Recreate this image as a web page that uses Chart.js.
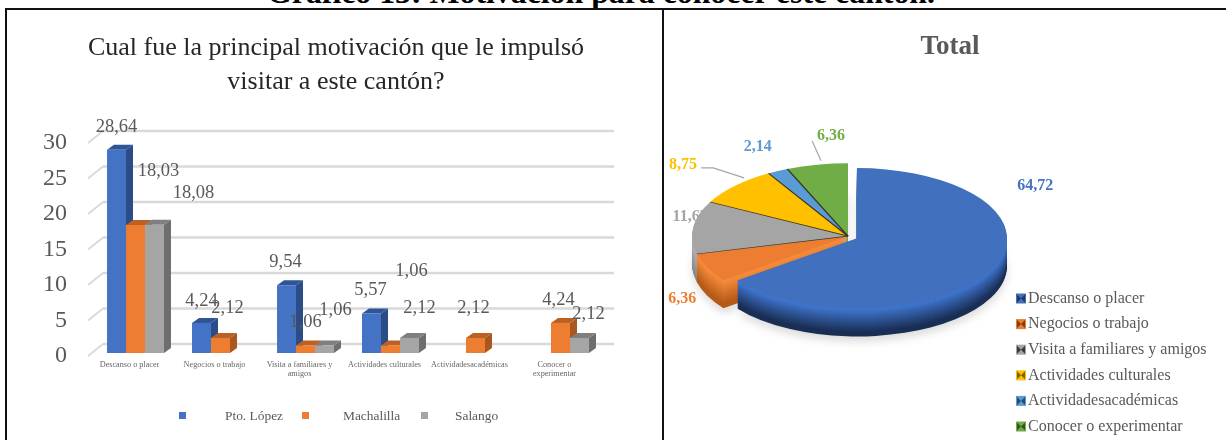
<!DOCTYPE html>
<html>
<head>
<meta charset="utf-8">
<title>Motivación</title>
<script src="https://cdn.jsdelivr.net/npm/chart.js@4"></script>
<style>
    html, body { margin: 0; width: 1226px; height: 440px; overflow: hidden; background: #fff; }
    #heading {
        position: absolute; left: 0; top: -21px; width: 1202px; text-align: center;
        font: bold 31.8px "Liberation Serif"; color: #000; line-height: 28px; white-space: nowrap;
    }
    .rule { position: absolute; background: #111; }
    canvas { position: absolute; }
</style>
</head>
<body>
<div id="heading">Gráfico 13: Motivación para conocer este cantón.</div>
<div class="rule" style="left:5px;top:8px;width:1221px;height:2px"></div>
<div class="rule" style="left:5px;top:8px;width:2px;height:432px"></div>
<div class="rule" style="left:662px;top:8px;width:2px;height:432px"></div>
<canvas id="barChart" width="672" height="440" style="left:0;top:0"></canvas>
<canvas id="pieChart" width="572" height="430" style="left:664px;top:10px"></canvas>

<script>
const categories = ["Descanso o placer", "Negocios o trabajo", ["Visita a familiares y", "amigos"],
    "Actividades culturales", "Actividadesacadémicas", ["Conocer o", "experimentar"]];
const ptoLopez = [28.64, 4.24, 9.54, 5.57, null, null];
const machalilla = [18.03, 2.12, 1.06, 1.06, 2.12, 4.24];
const salango = [18.08, null, 1.06, 2.12, null, 2.12];
const yTicks = [0, 5, 10, 15, 20, 25, 30];

const pieLabels = ["Descanso o placer", "Negocios o trabajo", "Visita a familiares y amigos",
    "Actividades culturales", "Actividadesacadémicas", "Conocer o experimentar"];
const pieValues = [64.72, 6.36, 11.67, 8.75, 2.14, 6.36];

const grey = "#595959";
const serif = "'Liberation Serif'";
const comma = v => v.toFixed(2).replace(".", ",");

// --- left chart -----------------------------------------------------------
const barFronts = ["#4472C4", "#ED7D31", "#A5A5A5"];
const barSides = ["#2C4C88", "#A9561F", "#6E6E6E"];
const barTops = ["#2F5597", "#BC6024", "#7F7F7F"];
// where the data labels sit relative to the top of their bar
const barLabelShift = [
    [[0, -23], [0, -22], [-1, -23], [-1, -23], null, null],
    [[23, -54], [7, -30], [0, -23], [21, -74], [-2, -30], [-2, -23]],
    [[39, -31], null, [11, -35], [10, -30], null, [9, -24]]
];
const legendSpots = [[179, 225], [302, 343], [421, 455]];

const bar3d = {
    id: "bar3d",
    afterLayout(chart) {
        // title is centred on the whole panel, not on the plot
        chart.titleBlock.left += 69;
    },
    beforeDatasetsDraw(chart) {
        const { ctx, chartArea, scales } = chart;
        const dx = 7, dy = 5;
        ctx.save();
        ctx.strokeStyle = "#d9d9d9";
        yTicks.forEach(t => {
            const y = scales.y.getPixelForValue(t);
            ctx.lineWidth = 2.5;
            ctx.beginPath();
            ctx.moveTo(chartArea.left + 10, y - 9);
            ctx.lineTo(chartArea.right + 11, y - 9);
            ctx.stroke();
            ctx.lineWidth = 1.8;
            ctx.beginPath();
            ctx.moveTo(chartArea.left - 5, y + 3);
            ctx.lineTo(chartArea.left + 10, y - 9);
            ctx.stroke();
        });
        chart.data.datasets.forEach((ds, i) => {
            chart.getDatasetMeta(i).data.forEach((b, j) => {
                if (ds.data[j] == null) return;
                const l = b.x - b.width / 2, r = b.x + b.width / 2;
                ctx.fillStyle = barSides[i];
                ctx.beginPath();
                ctx.moveTo(r, b.y);
                ctx.lineTo(r + dx, b.y - dy);
                ctx.lineTo(r + dx, b.base - dy);
                ctx.lineTo(r, b.base);
                ctx.fill();
                ctx.fillStyle = barTops[i];
                ctx.beginPath();
                ctx.moveTo(l, b.y);
                ctx.lineTo(l + dx, b.y - dy);
                ctx.lineTo(r + dx, b.y - dy);
                ctx.lineTo(r, b.y);
                ctx.fill();
            });
        });
        ctx.restore();
    },
    afterDraw(chart) {
        const { ctx } = chart;
        ctx.save();
        ctx.fillStyle = grey;
        ctx.textAlign = "center";
        ctx.textBaseline = "middle";
        ctx.font = "18.5px " + serif;
        chart.data.datasets.forEach((ds, i) => {
            chart.getDatasetMeta(i).data.forEach((b, j) => {
                if (ds.data[j] == null) return;
                const s = barLabelShift[i][j];
                ctx.fillText(comma(ds.data[j]), b.x + s[0], b.y + s[1]);
            });
        });
        ctx.textAlign = "left";
        ctx.font = "13.4px " + serif;
        chart.data.datasets.forEach((ds, i) => {
            ctx.fillStyle = barFronts[i];
            ctx.fillRect(legendSpots[i][0], 412, 7, 7);
            ctx.fillStyle = grey;
            ctx.fillText(ds.label, legendSpots[i][1], 416);
        });
        ctx.restore();
    }
};

new Chart("barChart", {
    type: "bar",
    data: {
        labels: categories,
        datasets: [
            { label: "Pto. López", data: ptoLopez, backgroundColor: barFronts[0] },
            { label: "Machalilla", data: machalilla, backgroundColor: barFronts[1] },
            { label: "Salango", data: salango, backgroundColor: barFronts[2] }
        ]
    },
    plugins: [bar3d],
    options: {
        responsive: false,
        animation: false,
        categoryPercentage: 0.67,
        barPercentage: 1,
        layout: { padding: { left: 0, top: 0, right: 69, bottom: 27 } },
        plugins: {
            legend: { display: false },
            tooltip: { enabled: false },
            title: {
                display: true,
                text: ["Cual fue la principal motivación que le impulsó", "visitar a este cantón?"],
                color: "#262626",
                font: { family: serif, size: 26, weight: "normal", lineHeight: 1.3 },
                padding: { top: 31, bottom: 41.4 }
            }
        },
        scales: {
            x: {
                grid: { display: false, drawTicks: false },
                border: { display: false },
                afterFit(s) { s.height = 60; },
                ticks: {
                    color: "#666666", maxRotation: 0, autoSkip: false, padding: 7, labelOffset: -6,
                    font: { family: serif, size: 8.2, lineHeight: 1.1 }
                }
            },
            y: {
                min: 0, max: 30,
                grid: { display: false, drawTicks: false },
                border: { display: false },
                afterFit(s) { s.width = 93; },
                ticks: {
                    stepSize: 5, color: grey, padding: 26, labelOffset: 3,
                    font: { family: serif, size: 24 }
                }
            }
        }
    }
});

// --- right chart ----------------------------------------------------------
const pieColors = ["#4070BE", "#ED7D31", "#A5A5A5", "#FFC000", "#5B9BD5", "#70AD47"];
const pieWallTop = ["#3F74CC", "#F58B3B", "#B0B0B0", "#E0AA00", "#4F8BC4", "#5F9A3A"];
const pieWallBottom = ["#1A2F55", "#B65A18", "#8A8A8A", "#8A6A00", "#2C5A88", "#3E6A24"];
const pieLabelColors = ["#4472C4", "#ED7D31", "#A5A5A5", "#FFC000", "#5B9BD5", "#70AD47"];
const pieLabelShift = [[44, -84], [-25, 31], [-3, -11], [-52, -21], [-20, -24], [14, -29]];
const markerDark = ["#1F3864", "#843C0C", "#3A3A3A", "#7F6000", "#1F4E79", "#375623"];
const sliceShift = [10, 0, 0, 0, 0, 0];
const pieLeft = -102;
const squash = 0.468;
const depth = 28;

function mix(a, b, t) {
    const c = [1, 3, 5].map(i => {
        const p = parseInt(a.substr(i, 2), 16), q = parseInt(b.substr(i, 2), 16);
        return Math.round(p + (q - p) * t);
    });
    return "rgb(" + c.join(",") + ")";
}

function paintArc(el, ctx, color) {
    const keep = el.options;
    el.options = Object.assign({}, keep, { backgroundColor: color, borderWidth: 0 });
    el.draw(ctx);
    el.options = keep;
}

const pie3d = {
    id: "pie3d",
    afterDatasetsUpdate(chart) {
        chart.getDatasetMeta(0).data.forEach((el, i) => {
            const mid = (el.startAngle + el.endAngle) / 2;
            el.x += pieLeft + sliceShift[i] * Math.cos(mid);
            el.y += sliceShift[i] * Math.sin(mid);
            if (sliceShift[i]) el.outerRadius -= 6;
        });
    },
    beforeDatasetsDraw(chart) {
        const { ctx } = chart;
        const arcs = chart.getDatasetMeta(0).data;
        const cy = arcs[1].y;

        // labels first: the grey one is partly hidden by the pie
        ctx.save();
        ctx.font = "bold 16px " + serif;
        ctx.textAlign = "center";
        ctx.textBaseline = "middle";
        const rim = arcs.map(el => {
            const mid = (el.startAngle + el.endAngle) / 2;
            return [el.x + el.outerRadius * Math.cos(mid), cy + (el.y - cy + el.outerRadius * Math.sin(mid)) * squash];
        });
        arcs.forEach((el, i) => {
            ctx.fillStyle = pieLabelColors[i];
            ctx.fillText(comma(pieValues[i]), rim[i][0] + pieLabelShift[i][0], rim[i][1] + pieLabelShift[i][1]);
        });
        ctx.strokeStyle = "#a6a6a6";
        ctx.lineWidth = 1.2;
        ctx.beginPath();
        ctx.moveTo(rim[3][0] + 9, rim[3][1] - 8);
        ctx.lineTo(rim[3][0] - 22, rim[3][1] - 18);
        ctx.lineTo(rim[3][0] - 34, rim[3][1] - 18);
        ctx.moveTo(rim[5][0] + 4, rim[5][1] - 4);
        ctx.lineTo(rim[5][0] - 5, rim[5][1] - 24);
        ctx.stroke();
        ctx.restore();

        ctx.save();
        ctx.translate(0, cy);
        ctx.scale(1, squash);
        ctx.translate(0, -cy);

        // soft shadow under the pie, then the wall layer by layer
        ctx.save();
        ctx.filter = "blur(4px)";
        ctx.translate(0, (depth + 5) / squash);
        arcs.forEach(el => paintArc(el, ctx, "#dcdcdc"));
        ctx.restore();
        for (let d = depth; d >= 1; d--) {
            ctx.save();
            ctx.translate(0, d / squash);
            arcs.forEach((el, i) => paintArc(el, ctx, mix(pieWallTop[i], pieWallBottom[i], Math.max(0, Math.min(1, (d - 2) / (depth - 6))))));
            ctx.restore();
        }
    },
    afterDatasetsDraw(chart) {
        const { ctx } = chart;
        const arcs = chart.getDatasetMeta(0).data;
        ctx.lineWidth = 1.6;
        ctx.strokeStyle = "#3a3220";
        arcs.slice(2).forEach(el => {
            ctx.beginPath();
            ctx.moveTo(el.x, el.y);
            ctx.lineTo(el.x + el.outerRadius * Math.cos(el.startAngle), el.y + el.outerRadius * Math.sin(el.startAngle));
            ctx.stroke();
        });
        ctx.restore();
    },
    afterDraw(chart) {
        const { ctx } = chart;
        ctx.save();
        ctx.textBaseline = "middle";
        ctx.font = "16px " + serif;
        chart.data.labels.forEach((label, i) => {
            const y = 288.5 + i * 25.6;
            const x = 352;
            ctx.fillStyle = pieColors[i];
            ctx.fillRect(x, y - 5, 10, 10);
            ctx.fillStyle = markerDark[i];
            ctx.beginPath();
            ctx.moveTo(x + 1, y - 4); ctx.lineTo(x + 5, y); ctx.lineTo(x + 1, y + 4);
            ctx.moveTo(x + 9, y - 4); ctx.lineTo(x + 5, y); ctx.lineTo(x + 9, y + 4);
            ctx.fill();
            ctx.fillStyle = grey;
            ctx.fillText(label, x + 12, y);
        });
        ctx.restore();
    }
};

new Chart("pieChart", {
    type: "pie",
    data: {
        labels: pieLabels,
        datasets: [{ data: pieValues, backgroundColor: pieColors, borderWidth: 0, radius: 156, clip: false }]
    },
    plugins: [pie3d],
    options: {
        responsive: false,
        animation: false,
        layout: { padding: { left: 0, top: 0, right: 0, bottom: 38 } },
        plugins: {
            legend: { display: false },
            tooltip: { enabled: false },
            title: {
                display: true,
                text: "Total",
                color: grey,
                font: { family: serif, size: 27, weight: "bold", lineHeight: 1.2 },
                padding: { top: 21, bottom: 7 }
            }
        }
    }
});
</script>
</body>
</html>
